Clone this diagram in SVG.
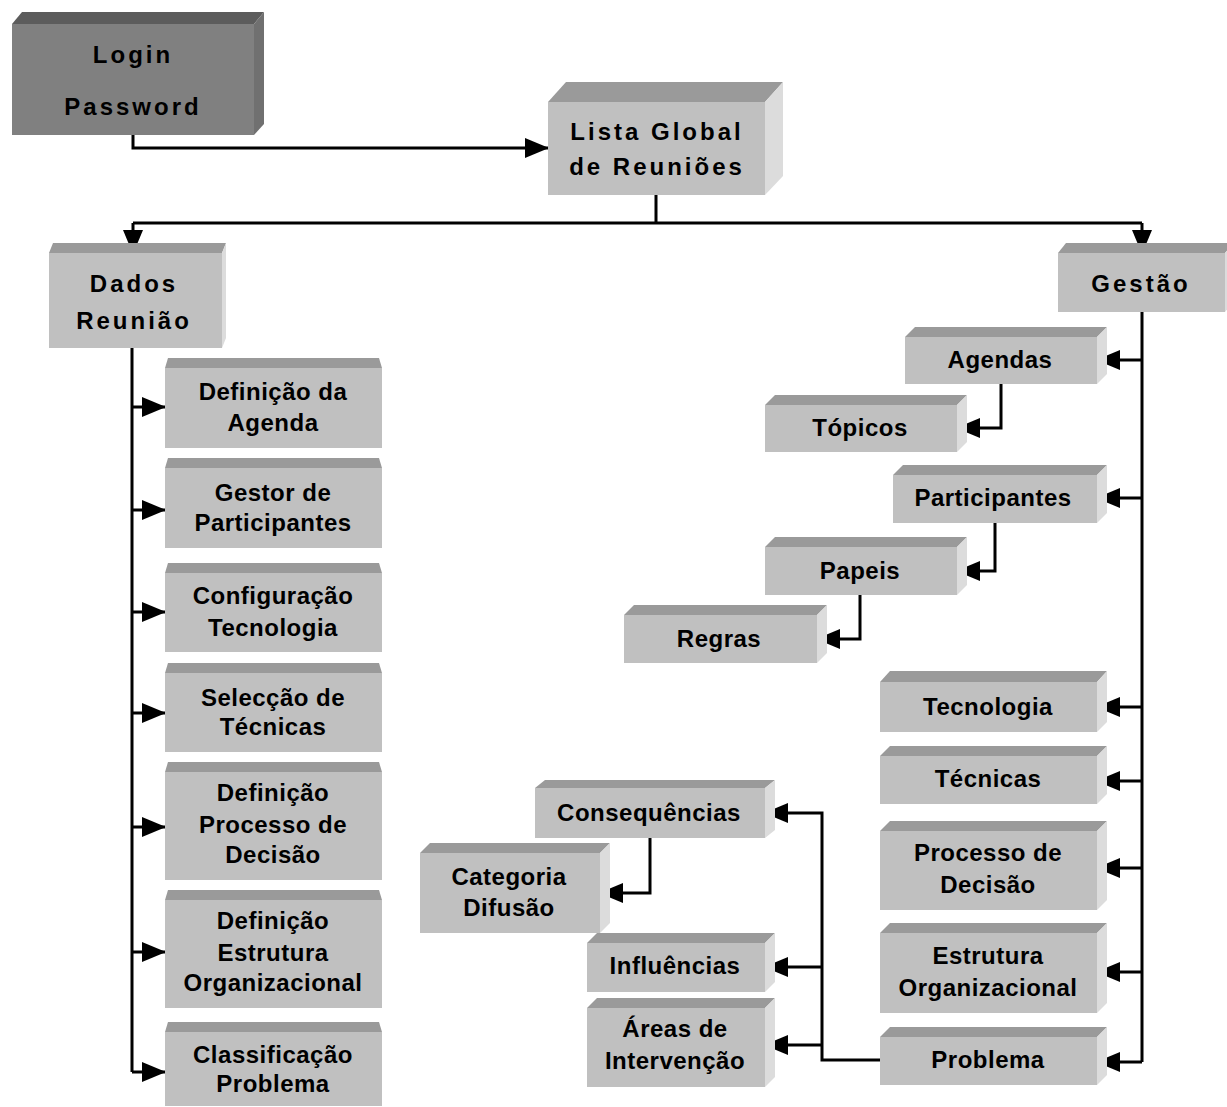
<svg xmlns="http://www.w3.org/2000/svg" width="1227" height="1107" viewBox="0 0 1227 1107">
<style>
.f{fill:#c0c0c0}
.t{fill:#9a9a9a}
.s{fill:#dcdcdc}
.fd{fill:#808080}
.td{fill:#5c5c5c}
.sd{fill:#707070}
text{font-family:"Liberation Sans",Arial,sans-serif;font-weight:bold;font-size:24px;fill:#000;text-anchor:middle;letter-spacing:0.5px}
.big{letter-spacing:3px}
.c{fill:none;stroke:#000;stroke-width:3}
.a{fill:none;stroke:#000;stroke-width:3;marker-end:url(#ah)}
</style>
<defs>
<marker id="ah" markerUnits="userSpaceOnUse" markerWidth="26" markerHeight="22" refX="23" refY="10" orient="auto" overflow="visible">
<path d="M0,0 L24,10 L0,20 z" fill="#000"/>
</marker>
</defs>
<rect width="1227" height="1107" fill="#fff"/>

<g id="connectors">
<path class="a" d="M133,135 V148 H548"/>
<path class="c" d="M656,195 V223 M133,223 H1142"/>
<path class="a" d="M133,223 V253"/>
<path class="a" d="M1142,223 V253"/>
<path class="c" d="M132,348 V1072"/>
<path class="a" d="M132,407 H165"/>
<path class="a" d="M132,510 H165"/>
<path class="a" d="M132,612 H165"/>
<path class="a" d="M132,713 H165"/>
<path class="a" d="M132,827 H165"/>
<path class="a" d="M132,952 H165"/>
<path class="a" d="M132,1072 H165"/>
<path class="c" d="M1142,312 V1062"/>
<path class="a" d="M1142,360 H1097"/>
<path class="a" d="M1142,498 H1097"/>
<path class="a" d="M1142,707 H1097"/>
<path class="a" d="M1142,781 H1097"/>
<path class="a" d="M1142,868 H1097"/>
<path class="a" d="M1142,972 H1097"/>
<path class="a" d="M1142,1062 H1097"/>
<path class="a" d="M1001,384 V428 H957"/>
<path class="a" d="M995,523 V571 H957"/>
<path class="a" d="M860,595 V639 H817"/>
<path class="a" d="M880,1060 H822 V813 H765"/>
<path class="a" d="M822,967 H765"/>
<path class="a" d="M822,1045 H765"/>
<path class="a" d="M650,838 V893 H600"/>
</g>

<g id="login">
<polygon class="td" points="12,24 22,12 264,12 254,24"/>
<polygon class="sd" points="254,24 264,12 264,124 254,135"/>
<rect class="fd" x="12" y="24" width="242" height="111"/>
<text class="big" x="133" y="63">Login</text>
<text class="big" x="133" y="115">Password</text>
</g>

<g id="lista-global">
<polygon class="t" points="548,102 566,82 783,82 765,102"/>
<polygon class="s" points="765,102 783,82 783,176 765,195"/>
<rect class="f" x="548" y="102" width="217" height="93"/>
<text class="big" x="657" y="140">Lista Global</text>
<text class="big" x="657" y="175">de Reuniões</text>
</g>

<g id="dados-reuniao">
<polygon class="t" points="49,253 53,243 226,243 222,253"/>
<polygon class="s" points="222,253 226,243 226,338 222,348"/>
<rect class="f" x="49" y="253" width="173" height="95"/>
<text class="big" x="134" y="292">Dados</text>
<text class="big" x="134" y="329">Reunião</text>
</g>

<g id="gestao">
<polygon class="t" points="1058,253 1066,243 1233,243 1225,253"/>
<polygon class="s" points="1225,253 1233,243 1233,302 1225,312"/>
<rect class="f" x="1058" y="253" width="167" height="59"/>
<text class="big" x="1141" y="292">Gestão</text>
</g>

<g id="definicao-agenda">
<polygon class="t" points="165,368 168,358 379,358 382,368"/>
<rect class="f" x="165" y="368" width="217" height="80"/>
<text x="273" y="400">Definição da</text>
<text x="273" y="431">Agenda</text>
</g>

<g id="gestor-participantes">
<polygon class="t" points="165,468 168,458 379,458 382,468"/>
<rect class="f" x="165" y="468" width="217" height="80"/>
<text x="273" y="501">Gestor de</text>
<text x="273" y="531">Participantes</text>
</g>

<g id="configuracao-tecnologia">
<polygon class="t" points="165,573 168,563 379,563 382,573"/>
<rect class="f" x="165" y="573" width="217" height="79"/>
<text x="273" y="604">Configuração</text>
<text x="273" y="636">Tecnologia</text>
</g>

<g id="seleccao-tecnicas">
<polygon class="t" points="165,673 168,663 379,663 382,673"/>
<rect class="f" x="165" y="673" width="217" height="79"/>
<text x="273" y="706">Selecção de</text>
<text x="273" y="735">Técnicas</text>
</g>

<g id="definicao-processo">
<polygon class="t" points="165,772 168,762 379,762 382,772"/>
<rect class="f" x="165" y="772" width="217" height="108"/>
<text x="273" y="801">Definição</text>
<text x="273" y="833">Processo de</text>
<text x="273" y="863">Decisão</text>
</g>

<g id="definicao-estrutura">
<polygon class="t" points="165,900 168,890 379,890 382,900"/>
<rect class="f" x="165" y="900" width="217" height="108"/>
<text x="273" y="929">Definição</text>
<text x="273" y="961">Estrutura</text>
<text x="273" y="991">Organizacional</text>
</g>

<g id="classificacao-problema">
<polygon class="t" points="165,1032 168,1022 379,1022 382,1032"/>
<rect class="f" x="165" y="1032" width="217" height="74"/>
<text x="273" y="1063">Classificação</text>
<text x="273" y="1092">Problema</text>
</g>

<g id="agendas">
<polygon class="t" points="905,337 915,327 1107,327 1097,337"/>
<polygon class="s" points="1097,337 1107,327 1107,374 1097,384"/>
<rect class="f" x="905" y="337" width="192" height="47"/>
<text x="1000" y="368">Agendas</text>
</g>

<g id="topicos">
<polygon class="t" points="765,405 775,395 967,395 957,405"/>
<polygon class="s" points="957,405 967,395 967,442 957,452"/>
<rect class="f" x="765" y="405" width="192" height="47"/>
<text x="860" y="436">Tópicos</text>
</g>

<g id="participantes">
<polygon class="t" points="893,475 903,465 1107,465 1097,475"/>
<polygon class="s" points="1097,475 1107,465 1107,513 1097,523"/>
<rect class="f" x="893" y="475" width="204" height="48"/>
<text x="993" y="506">Participantes</text>
</g>

<g id="papeis">
<polygon class="t" points="765,547 775,537 967,537 957,547"/>
<polygon class="s" points="957,547 967,537 967,585 957,595"/>
<rect class="f" x="765" y="547" width="192" height="48"/>
<text x="860" y="579">Papeis</text>
</g>

<g id="regras">
<polygon class="t" points="624,615 634,605 827,605 817,615"/>
<polygon class="s" points="817,615 827,605 827,653 817,663"/>
<rect class="f" x="624" y="615" width="193" height="48"/>
<text x="719" y="647">Regras</text>
</g>

<g id="tecnologia">
<polygon class="t" points="880,682 890,671 1107,671 1097,682"/>
<polygon class="s" points="1097,682 1107,671 1107,722 1097,732"/>
<rect class="f" x="880" y="682" width="217" height="50"/>
<text x="988" y="715">Tecnologia</text>
</g>

<g id="tecnicas">
<polygon class="t" points="880,756 890,746 1107,746 1097,756"/>
<polygon class="s" points="1097,756 1107,746 1107,794 1097,804"/>
<rect class="f" x="880" y="756" width="217" height="48"/>
<text x="988" y="787">Técnicas</text>
</g>

<g id="processo-decisao">
<polygon class="t" points="880,831 890,821 1107,821 1097,831"/>
<polygon class="s" points="1097,831 1107,821 1107,900 1097,910"/>
<rect class="f" x="880" y="831" width="217" height="79"/>
<text x="988" y="861">Processo de</text>
<text x="988" y="893">Decisão</text>
</g>

<g id="estrutura-organizacional">
<polygon class="t" points="880,933 890,923 1107,923 1097,933"/>
<polygon class="s" points="1097,933 1107,923 1107,1003 1097,1013"/>
<rect class="f" x="880" y="933" width="217" height="80"/>
<text x="988" y="964">Estrutura</text>
<text x="988" y="996">Organizacional</text>
</g>

<g id="problema">
<polygon class="t" points="880,1037 890,1027 1107,1027 1097,1037"/>
<polygon class="s" points="1097,1037 1107,1027 1107,1075 1097,1085"/>
<rect class="f" x="880" y="1037" width="217" height="48"/>
<text x="988" y="1068">Problema</text>
</g>

<g id="consequencias">
<polygon class="t" points="535,788 545,780 775,780 765,788"/>
<polygon class="s" points="765,788 775,780 775,830 765,838"/>
<rect class="f" x="535" y="788" width="230" height="50"/>
<text x="649" y="821">Consequências</text>
</g>

<g id="categoria-difusao">
<polygon class="t" points="420,853 430,843 610,843 600,853"/>
<polygon class="s" points="600,853 610,843 610,923 600,933"/>
<rect class="f" x="420" y="853" width="180" height="80"/>
<text x="509" y="885">Categoria</text>
<text x="509" y="916">Difusão</text>
</g>

<g id="influencias">
<polygon class="t" points="587,943 597,933 775,933 765,943"/>
<polygon class="s" points="765,943 775,933 775,982 765,992"/>
<rect class="f" x="587" y="943" width="178" height="49"/>
<text x="675" y="974">Influências</text>
</g>

<g id="areas-intervencao">
<polygon class="t" points="587,1008 597,998 775,998 765,1008"/>
<polygon class="s" points="765,1008 775,998 775,1077 765,1087"/>
<rect class="f" x="587" y="1008" width="178" height="79"/>
<text x="675" y="1037">Áreas de</text>
<text x="675" y="1069">Intervenção</text>
</g>
</svg>
